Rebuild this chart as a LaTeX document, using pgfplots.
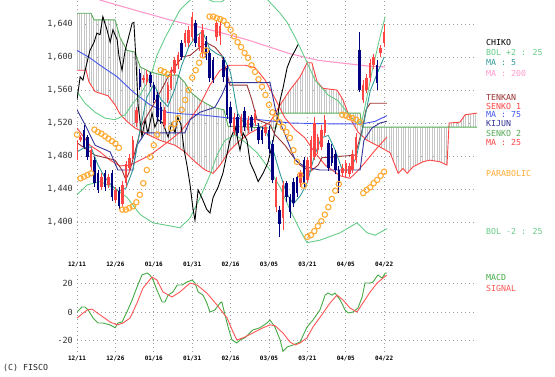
\documentclass[border=0pt]{standalone}
\usepackage{pgfplots}
\pgfplotsset{compat=1.18}
\usepackage{pgfplotstable}
\usepgfplotslibrary{fillbetween}
\usetikzlibrary{patterns.meta}
\usepackage{fontspec}
\setmainfont{DejaVu Sans Mono}
\definecolor{bolc}{HTML}{66CC88}
\definecolor{senkotwo}{HTML}{55AA55}
\definecolor{redl}{HTML}{FF4444}
\definecolor{pinkc}{HTML}{FF99CC}
\definecolor{tealc}{HTML}{339999}
\definecolor{bluec}{HTML}{4455EE}
\definecolor{navyc}{HTML}{333399}
\definecolor{brownc}{HTML}{993333}
\definecolor{sarc}{HTML}{FFAA33}
\definecolor{upcol}{HTML}{FF4444}
\definecolor{dncol}{HTML}{000080}
\definecolor{macdc}{HTML}{44AA44}
\definecolor{sigc}{HTML}{FF5555}

\pgfplotstableread{
i lo hi L H
0 1479 1496 1475 1499
1 1500 1503 1497 1506
4 1467 1487 1463 1490
7 1443 1455 1439 1459
9 1445 1454 1441 1458
11 1427 1439 1423 1443
13 1422 1445 1418 1450
14 1447 1470 1443 1474
15 1465 1478 1461 1482
16 1480 1500 1476 1504
17 1520 1536 1515 1540
19 1572 1575 1569 1578
20 1570 1580 1566 1584
25 1518 1536 1514 1540
26 1548 1566 1544 1570
27 1563 1584 1560 1588
28 1581 1596 1578 1600
29 1590 1602 1586 1606
31 1617 1629 1612 1633
32 1617 1633 1612 1637
33 1624 1648 1620 1655
35 1612 1624 1607 1628
36 1605 1633 1600 1640
40 1624 1641 1620 1645
41 1625 1638 1615 1644
45 1509 1527 1505 1532
47 1508 1527 1504 1531
49 1512 1524 1508 1528
51 1520 1532 1516 1536
54 1508 1515 1504 1519
57 1418 1451 1412 1455
59 1405 1445 1390 1450
64 1447 1459 1443 1463
66 1451 1475 1447 1479
67 1466 1499 1462 1504
68 1479 1520 1475 1527
69 1487 1503 1483 1507
70 1491 1512 1487 1517
71 1508 1524 1504 1530
76 1459 1466 1455 1470
77 1459 1471 1455 1475
78 1458 1468 1454 1472
79 1463 1483 1459 1487
80 1475 1503 1471 1508
82 1548 1566 1544 1572
83 1560 1575 1556 1580
84 1575 1593 1570 1598
85 1590 1600 1586 1604
87 1605 1611 1600 1615
88 1617 1630 1612 1640
}\uptable

\pgfplotstableread{
i lo hi L H
2 1491 1512 1488 1518
3 1479 1503 1475 1506
5 1447 1475 1443 1479
6 1439 1459 1435 1463
8 1442 1460 1437 1463
10 1430 1459 1426 1463
12 1420 1438 1414 1442
18 1564 1581 1560 1585
21 1568 1578 1564 1582
22 1548 1566 1544 1570
23 1527 1554 1522 1558
24 1524 1540 1519 1545
30 1600 1617 1596 1621
34 1617 1641 1612 1645
37 1600 1620 1596 1625
38 1575 1605 1570 1609
39 1572 1596 1568 1600
42 1576 1596 1570 1600
43 1530 1587 1525 1590
44 1520 1540 1515 1545
46 1508 1527 1504 1531
48 1515 1535 1510 1540
50 1515 1527 1510 1530
52 1499 1515 1494 1520
53 1499 1511 1494 1515
55 1488 1512 1484 1516
56 1451 1495 1447 1499
58 1398 1415 1382 1420
60 1430 1447 1424 1450
61 1412 1430 1405 1434
62 1423 1449 1418 1453
63 1435 1454 1430 1458
65 1447 1475 1443 1479
72 1466 1496 1462 1500
73 1472 1490 1468 1495
74 1463 1483 1458 1487
75 1447 1463 1435 1468
81 1560 1609 1557 1630
86 1568 1590 1560 1596
}\dntable

\pgfplotsset{
  fiscoaxis/.style={
    scale only axis, width=400bp,
    xmin=0, xmax=114.6,
    axis line style={draw=none},
    major tick length=0pt,
    xtick={0,11,22,33,44,55,66,77,88},
    xticklabels={12/11,12/26,01/16,01/31,02/16,03/05,03/21,04/05,04/22},
    grid=major,
    major grid style={draw=gray!75, line width=0.8bp, dash pattern=on 0.8bp off 3.2bp},
    xticklabel style={font=\fontsize{6}{6}\selectfont\bfseries, anchor=center, yshift=-7bp, inner sep=0pt},
    yticklabel style={font=\fontsize{8.5}{8.5}\selectfont, anchor=east, xshift=-4bp, inner sep=0pt, text=black!80},
    every axis plot/.append style={line width=0.9bp},
  }
}

\begin{document}
\begin{tikzpicture}

% ---------------- price panel ----------------
\begin{axis}[fiscoaxis,
  at={(77bp,119bp)}, anchor=south west, height=258bp,
  ymin=1356.4, ymax=1669.1,
  ytick={1400,1440,1480,1520,1560,1600,1640},
  yticklabels={{1,400},{1,440},{1,480},{1,520},{1,560},{1,600},{1,640}},
]
% Ichimoku cloud
\addplot[name path=sone, redl] coordinates {
(0,1584) (2.6,1584) (3.4,1570) (5.2,1558) (8.9,1553) (10.9,1542) (12.3,1531) (14.3,1522) (16.6,1514) (20.3,1506) (23.8,1499) (28.1,1493) (30.9,1485) (33.8,1473) (36.7,1463) (39,1459) (41,1469) (43.8,1487) (46.7,1499) (49.6,1508) (52.4,1514) (55.3,1521) (58.2,1542) (61,1560) (63.9,1576) (65.9,1593) (67.3,1593) (68.8,1570) (70.5,1562) (74.5,1560) (76.2,1548) (78.2,1526) (80.5,1509) (83.1,1499) (86.8,1491) (89.7,1484) (92,1459) (93.4,1465) (94.6,1459) (96.3,1467) (99.1,1473) (101.1,1475) (104,1473) (106,1469) (106.6,1520) (109.7,1521) (111.2,1530) (114.6,1532)};
\addplot[name path=stwo, senkotwo] coordinates {
(0,1653) (4,1653) (4.9,1645) (10.9,1645) (12.3,1624) (14.3,1608) (16.6,1606) (18.1,1588) (20.9,1582) (24.6,1578) (28.9,1578) (30.9,1569) (32.4,1558) (35.2,1548) (39,1539) (42.1,1536) (43.3,1516) (54.7,1514) (57,1514) (57.9,1532) (81.1,1532) (81.7,1515) (114.6,1515)};
\addplot[draw=none, pattern={Lines[angle=90,distance=2.4bp,line width=0.45bp]}, pattern color=gray!45] fill between[of=sone and stwo];

% MA 200
\addplot[pinkc, line width=1.1bp] coordinates {
(5.2,1675) (6.6,1669) (18.1,1655) (26.6,1645) (37.2,1634) (48.7,1621) (61,1604) (69.1,1596) (83.4,1589) (88.3,1588)};
% MA 75
\addplot[bluec] coordinates {
(0,1608) (3.7,1599) (6.6,1590) (11.5,1576) (16,1558) (20.9,1542) (25.8,1533) (30.4,1531) (35.2,1530) (43.8,1526) (52.4,1524) (61,1520) (72.5,1519) (81.7,1519) (85.4,1522) (88.8,1529)};
% MA 25
\addplot[redl] coordinates {
(0,1514) (3.7,1493) (6.6,1485) (9.5,1475) (12.3,1468) (15.2,1469) (18.1,1475) (20.9,1481) (23.8,1490) (26.6,1499) (29.5,1509) (32.4,1524) (35.2,1542) (38.1,1566) (41,1584) (43.8,1590) (48.1,1590) (51,1587) (53.9,1572) (56.7,1550) (59.6,1526) (62.5,1512) (65.3,1502) (68.2,1484) (71.1,1469) (75.4,1456) (78.2,1453) (80.2,1461) (82.5,1472) (85.4,1487) (88.8,1503)};
% Bollinger +2
\addplot[bolc] coordinates {
(0,1558) (2.3,1544) (5.2,1533) (8,1526) (10.9,1524) (13.8,1530) (16,1544) (18.1,1554) (20.1,1569) (21.5,1582) (22.9,1602) (25.2,1623) (27.2,1639) (29.5,1657) (32.4,1669) (35.2,1675) (39,1667) (41.5,1667) (45.3,1679) (51,1679) (54.7,1669) (58.2,1653) (60.2,1642) (62.5,1624) (65.3,1599) (68.2,1572) (71.9,1554) (74.8,1547) (77.7,1531) (80.2,1519) (81.7,1524) (83.1,1552) (84.8,1588) (86.8,1624) (88.3,1649)};
% Bollinger -2
\addplot[bolc] coordinates {
(0,1433) (2.9,1445) (6.6,1449) (10.3,1442) (14.3,1430) (18.1,1409) (21.8,1399) (25.8,1396) (29.5,1393) (32.4,1405) (35.2,1429) (38.1,1457) (40.1,1481) (42.4,1499) (45.3,1506) (48.1,1497) (51.6,1484) (55.3,1463) (58.2,1442) (61,1415) (63.9,1390) (65.9,1375) (69.6,1378) (75.4,1387) (80.2,1399) (83.1,1387) (85.4,1384) (88.8,1392)};
% Chiko
\addplot[black] coordinates {
(0,1548) (0.9,1576) (1.7,1572) (2.9,1594) (3.7,1608) (4.9,1618) (5.7,1629) (6.6,1627) (7.4,1649) (8.6,1633) (9.5,1618) (10.3,1633) (11.5,1621) (12,1602) (12.9,1584) (13.8,1608) (14.6,1621) (15.8,1641) (16.3,1642) (16.9,1596) (17.5,1542) (18.6,1503) (19.5,1524) (20.3,1508) (21.5,1532) (22.3,1515) (23.2,1524) (24.6,1520) (26.1,1503) (27.2,1520) (28.1,1508) (28.9,1527) (29.8,1518) (30.7,1487) (31.5,1469) (32.4,1445) (33.2,1417) (33.8,1402) (34.7,1439) (35.8,1429) (37.2,1415) (38.1,1411) (39,1430) (40.4,1442) (41.8,1459) (43.8,1499) (45.3,1515) (46.7,1487) (47.6,1508) (48.7,1499) (49.6,1472) (51,1459) (51.9,1449) (53.3,1459) (54.7,1472) (56.2,1499) (57.3,1524) (58.2,1548) (59,1562) (60.2,1587) (61.3,1599) (62.5,1608) (63.3,1615)};
% Tenkan
\addplot[brownc] coordinates {
(0,1496) (5.2,1481) (10.9,1475) (12.9,1463) (14,1451) (15.2,1463) (16.6,1485) (18.6,1518) (21.5,1539) (24.4,1562) (26.1,1576) (28.1,1588) (30.1,1600) (32.4,1602) (35.2,1612) (37.2,1617) (39.5,1612) (41.5,1602) (42.7,1584) (43.8,1566) (48.7,1566) (50.1,1548) (51.6,1524) (55.3,1518) (56.7,1506) (59.6,1493) (61.6,1481) (63.9,1469) (66.8,1461) (69.1,1469) (70.2,1478) (79.7,1481) (81.7,1512) (82.8,1536) (84,1544) (88.8,1544)};
% Kijun
\addplot[navyc] coordinates {
(0,1536) (2.3,1518) (5.2,1493) (9.5,1485) (11.7,1463) (16,1463) (17.2,1493) (19.5,1508) (30.9,1508) (32.4,1524) (35.2,1533) (39.5,1539) (41.5,1554) (43,1569) (55.3,1569) (57,1533) (59.6,1506) (62.5,1475) (65.3,1467) (69.6,1463) (81.1,1463) (82.2,1499) (84.5,1514) (86.8,1520) (88.8,1522)};
% MA 5
\addplot[tealc] coordinates {
(0,1485) (2,1490) (4,1491) (6,1469) (8,1454) (10,1444) (12,1437) (14,1441) (16,1463) (18,1510) (20,1551) (22,1567) (24,1549) (26,1540) (28,1561) (30,1590) (32,1612) (34,1625) (36,1631) (38,1610) (40,1604) (42,1600) (44,1581) (46,1532) (48,1519) (50,1518) (52,1517) (54,1512) (56,1490) (58,1461) (60,1435) (62,1422) (64,1432) (66,1448) (68,1480) (70,1502) (72,1505) (74,1487) (76,1463) (78,1463) (80,1478) (81,1497) (82,1516) (84,1559) (86,1580) (88,1600)};

% candlesticks: wicks then bodies (vertical segments)
\addplot[draw=upcol, line width=0.7bp, quiver={u=0, v=\thisrow{H}-\thisrow{L}}] table[x=i, y=L] {\uptable};
\addplot[draw=dncol, line width=0.7bp, quiver={u=0, v=\thisrow{H}-\thisrow{L}}] table[x=i, y=L] {\dntable};
\addplot[draw=upcol, line width=2.5bp, quiver={u=0, v=\thisrow{hi}-\thisrow{lo}}] table[x=i, y=lo] {\uptable};
\addplot[draw=dncol, line width=2.5bp, quiver={u=0, v=\thisrow{hi}-\thisrow{lo}}] table[x=i, y=lo] {\dntable};

% Parabolic SAR
\addplot[only marks, mark=o, mark size=2.7bp, mark options={draw=sarc, line width=1.1bp}] coordinates {
(0,1506) (1,1453) (2,1455) (3,1457) (4,1459) (5,1512) (6,1509) (7,1507) (8,1504) (9,1501) (10,1498) (11,1495) (12,1490) (13,1415) (14,1415) (15,1417) (16,1419) (17,1424) (18,1433) (19,1447) (20,1463) (21,1479) (22,1493) (23,1506) (24,1584) (25,1582) (26,1579) (27,1514) (28,1519) (29,1526) (30,1536) (31,1548) (32,1560) (33,1575) (34,1584) (35,1593) (36,1602) (37,1608) (38,1649) (39,1649) (40,1647) (41,1646) (42,1644) (43,1639) (44,1633) (45,1625) (46,1618) (47,1612) (48,1605) (49,1599) (50,1590) (51,1582) (52,1573) (53,1564) (54,1554) (55,1542) (56,1533) (57,1526) (58,1521) (59,1515) (60,1509) (61,1502) (62,1487) (63,1473) (64,1457) (65,1444) (66,1382) (67,1384) (68,1389) (69,1395) (70,1401) (71,1409) (72,1418) (73,1428) (74,1438) (75,1446) (76,1530) (77,1529) (78,1527) (79,1526) (80,1524) (81,1521) (82,1435) (83,1439) (84,1442) (85,1447) (86,1451) (87,1456) (88,1461)};
\end{axis}

% ---------------- MACD panel ----------------
\begin{axis}[fiscoaxis,
  at={(77bp,25bp)}, anchor=south west, height=80bp,
  ymin=-27.9, ymax=27.9,
  ytick={-20,0,20}, yticklabels={-20,0,20},
]
\addplot[macdc] coordinates {
(0,0) (1.4,3.5) (2.3,3.5) (3.2,1.4) (4.6,-4.2) (6,-7.7) (7.4,-7.7) (9.5,-9) (10.9,-11) (11.7,-7.7) (12.9,-7) (14.3,0) (15.8,8.4) (17.2,17.4) (18.6,25.8) (20.1,27.2) (20.9,25.8) (21.8,22.3) (22.9,15.3) (24.4,7) (25.2,7) (26.1,11.8) (27.5,14) (28.7,18.8) (30.1,18.8) (31.5,20.9) (33,22.3) (33.8,20.2) (34.7,14) (36.1,11.8) (37.2,6.3) (38.1,0) (39.5,1.4) (41,6.3) (41.5,7) (42.4,-2) (43.3,-10.5) (44.4,-19.5) (45.8,-21.6) (46.7,-19.5) (48.1,-18) (50.4,-12.5) (52.4,-11) (54.4,-7.7) (55.3,-5.6) (56.7,-10.5) (58.2,-19.5) (59,-27.5) (60.2,-24.4) (61.9,-23) (63.9,-20.9) (65.9,-10.5) (67.6,-5.6) (69.6,1.4) (71.1,11.8) (71.9,13.2) (73.1,11.8) (73.9,13.2) (75.4,8.4) (76.8,1.4) (77.7,-0.7) (79.1,0) (80.5,2.8) (81.7,10.5) (82.5,20.2) (84,20.2) (84.8,20.9) (86.2,25.8) (87.4,23.7) (88.3,27.2) (88.8,27.2)};
\addplot[sigc] coordinates {
(0,-4.2) (2.9,1.4) (4.3,2) (6.6,-2) (9.5,-7) (11.5,-9) (13.2,-7.7) (15.2,-4.2) (17.2,6.3) (18.9,16.7) (21.5,24.4) (22.9,22.3) (24.6,14) (27.2,10.5) (29.5,14) (32.4,20.2) (34.4,18.8) (37.2,13.2) (40.1,4.9) (43,-4.2) (44.7,-13.9) (45.8,-19.5) (47.6,-18) (50.4,-14.6) (53.3,-11) (55.3,-9) (56.7,-9.5) (59,-14.6) (61,-20.9) (62.5,-23) (63.9,-21.6) (65.9,-18) (67.6,-10.5) (70.5,-0.7) (72.5,6.3) (74.5,11.8) (76.2,8.4) (78.2,2.8) (80.2,0) (81.9,6.3) (84,14) (86,20.2) (87.7,23.7) (88.8,25.8)};
\end{axis}

% ---------------- legend texts ----------------
\begin{scope}[every node/.style={anchor=west, inner sep=0pt, font=\fontsize{8.3}{8.3}\selectfont}]
\node[text=black] at (486bp,335bp) {CHIKO};
\node[text=bolc] at (486bp,325bp) {BOL +2 : 25};
\node[text=tealc] at (486bp,314bp) {MA : 5};
\node[text=pinkc] at (486bp,304bp) {MA : 200};
\node[text=brownc] at (486bp,280bp) {TENKAN};
\node[text=redl] at (486bp,271bp) {SENKO 1};
\node[text=bluec] at (486bp,262bp) {MA : 75};
\node[text=navyc] at (486bp,253bp) {KIJUN};
\node[text=senkotwo] at (486bp,244bp) {SENKO 2};
\node[text=redl] at (486bp,235bp) {MA : 25};
\node[text=sarc] at (486bp,204bp) {PARABOLIC};
\node[text=bolc] at (486bp,146bp) {BOL -2 : 25};
\node[text=macdc] at (486bp,100bp) {MACD};
\node[text=sigc] at (486bp,89bp) {SIGNAL};
\node[text=black!85] at (3bp,9bp) {(C) FISCO};
\end{scope}
\pgfresetboundingbox
\useasboundingbox (0,0) rectangle (555bp,377bp);
\end{tikzpicture}
\end{document}
